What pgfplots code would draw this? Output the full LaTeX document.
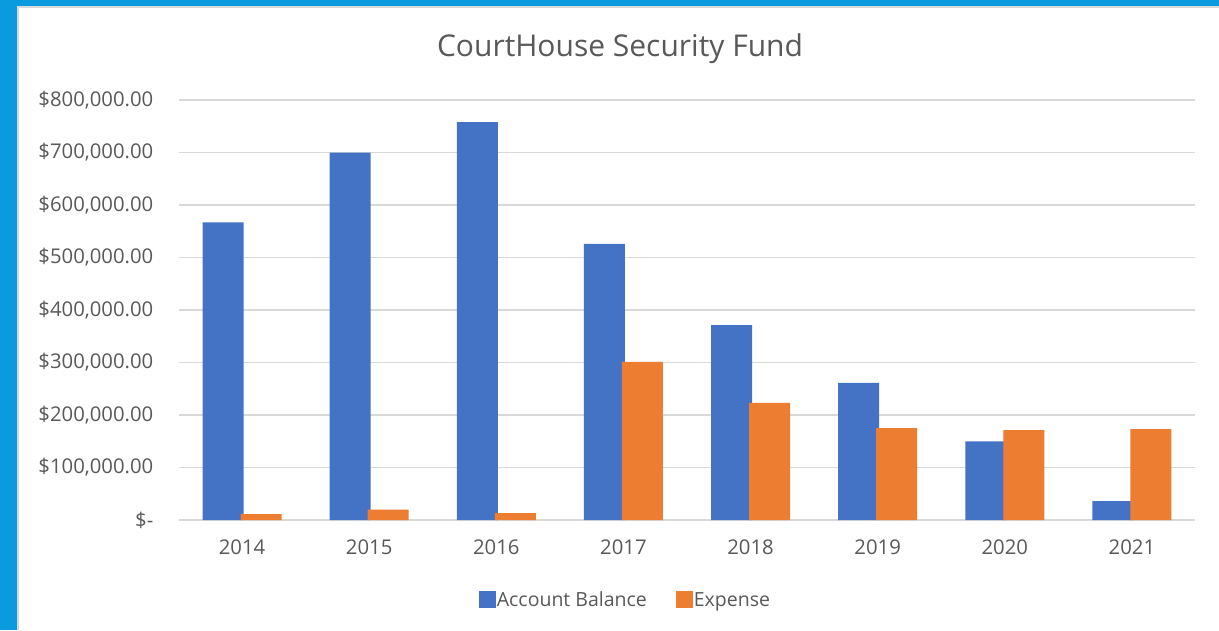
\documentclass[border=0pt]{standalone}
\usepackage{pgfplots}
\pgfplotsset{compat=1.18}
\usepackage{fontspec}
\setmainfont{Open Sans}

\definecolor{barblue}{HTML}{4472C4}
\definecolor{barorange}{HTML}{ED7D31}
\definecolor{gridgray}{HTML}{D9D9D9}
\definecolor{txtgray}{HTML}{595959}
\definecolor{frameblue}{HTML}{0A9BDF}

\begin{document}
\begin{tikzpicture}
    \path[use as bounding box] (0pt,0pt) rectangle (1219pt,-630pt);
    % frame round the chart area
    \fill[frameblue] (0pt,0pt) rectangle (1219pt,-630pt);
    \fill[white] (18pt,-7pt) rectangle (1219pt,-630pt);
    \draw[gridgray, line width=2pt] (18pt,-630pt) -- (18pt,-7pt) -- (1219pt,-7pt);

    \node[text=txtgray, font=\fontsize{30}{34}\selectfont] at (620pt,-49pt) {CourtHouse Security Fund};

    \begin{axis}[
            at={(178.5pt,-520pt)}, anchor=south west,
            scale only axis,
            width=1017pt, height=420pt,
            ybar, bar width=41pt, ybar=-3pt,
            xmin=-0.5, xmax=7.5,
            ymin=0, ymax=800000,
            axis x line*=bottom, axis y line*=left,
            y axis line style={draw=none},
            x axis line style={gridgray, line width=1.3pt},
            major tick length=0pt,
            ymajorgrids,
            grid style={gridgray, line width=1.3pt},
            xtick={0,...,7},
            xticklabels={2014,2015,2016,2017,2018,2019,2020,2021},
            ytick={0,100000,...,800000},
            yticklabels={\$-, \$100{,}000.00, \$200{,}000.00, \$300{,}000.00, \$400{,}000.00,
                \$500{,}000.00, \$600{,}000.00, \$700{,}000.00, \$800{,}000.00},
            scaled y ticks=false,
            tick label style={text=txtgray, font=\fontsize{20.3}{23}\selectfont},
            yticklabel style={inner sep=0pt, xshift=-25pt},
            xticklabel style={inner sep=0pt, yshift=-20pt},
            legend style={at={(0.439,-0.19)}, anchor=center, legend columns=2,
                draw=none, fill=none, text=txtgray,
                font=\fontsize{19.5}{22}\selectfont,
                nodes={inner sep=1pt},
                /tikz/every even column/.append style={column sep=28pt}},
            every axis plot post/.append style={
                legend image code/.code={\fill[##1] (0pt,-8.5pt) rectangle (17pt,8.5pt);}},
        ]
        \addplot[fill=barblue, draw=none] coordinates {
            (0,567000) (1,700000) (2,758000) (3,526000)
            (4,371000) (5,261000) (6,150000) (7,36000)};
        \addlegendentry{Account Balance}

        \addplot[fill=barorange, draw=none] coordinates {
            (0,11000) (1,20000) (2,13000) (3,301000)
            (4,223000) (5,175000) (6,171000) (7,173000)};
        \addlegendentry{Expense}
    \end{axis}
\end{tikzpicture}
\end{document}
